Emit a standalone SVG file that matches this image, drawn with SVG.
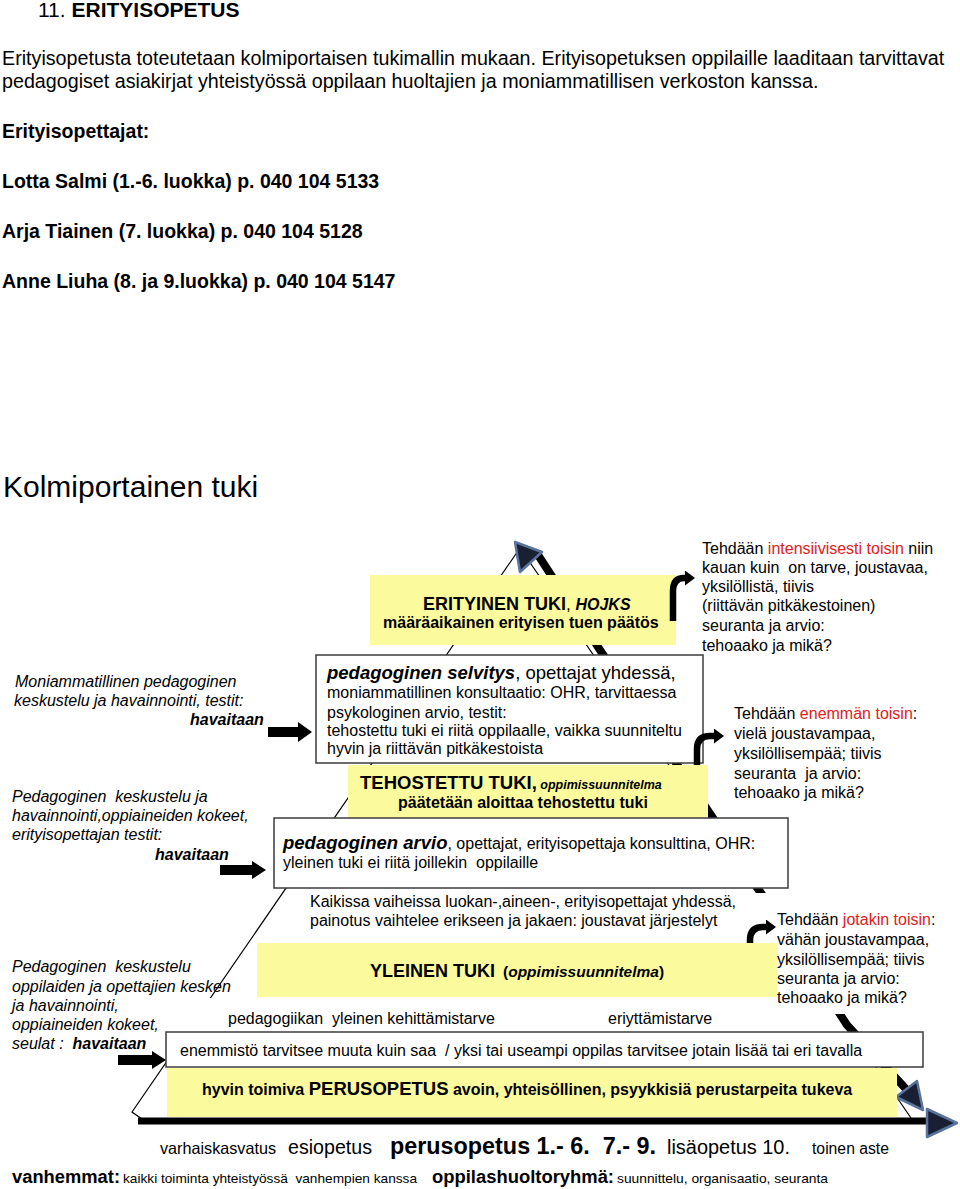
<svg xmlns="http://www.w3.org/2000/svg" width="960" height="1189" viewBox="0 0 960 1189">
<style>
text{font-family:"Liberation Sans",Arial,Helvetica,sans-serif;fill:#000}
.f16{font-size:16px}
.b{font-weight:bold}
.i{font-style:italic}
.red{fill:#e0201b}
.box{fill:#fff;stroke:#3c3c3c;stroke-width:1.5}
.yel{fill:#fbfb9e}
.bg{fill:#fff}
.thin{fill:none;stroke:#000;stroke-width:1.2}
.thick{fill:none;stroke:#000;stroke-width:8;stroke-linejoin:round}
.base{fill:none;stroke:#000;stroke-width:7}
.head{fill:#1a2033;stroke:#58739c;stroke-width:2.5;stroke-linejoin:round}
.blk{fill:#000}
.bend{fill:none;stroke:#000;stroke-width:6.5;marker-end:url(#bh)}
</style>
<defs>
<marker id="bh" markerUnits="userSpaceOnUse" markerWidth="12" markerHeight="16" refX="0" refY="7.5" orient="auto"><path d="M0,0 L10,7.5 L0,15 z" fill="#000"/></marker>
</defs>
<rect width="960" height="1189" fill="#fff"/>
<g id="header">
<text x="38" y="17" font-size="21">11. <tspan class="b">ERITYISOPETUS</tspan></text>
<text x="2" y="65" font-size="19.7">Erityisopetusta toteutetaan kolmiportaisen tukimallin mukaan. Erityisopetuksen oppilaille laaditaan tarvittavat</text>
<text x="2" y="88" font-size="19.7">pedagogiset asiakirjat yhteistyössä oppilaan huoltajien ja moniammatillisen verkoston kanssa.</text>
<text x="2" y="138" font-size="19.5" class="b">Erityisopettajat:</text>
<text x="2" y="188" font-size="19.5" class="b">Lotta Salmi (1.-6. luokka) p. 040 104 5133</text>
<text x="2" y="238" font-size="19.5" class="b">Arja Tiainen (7. luokka) p. 040 104 5128</text>
<text x="2" y="288" font-size="19.5" class="b">Anne Liuha (8. ja 9.luokka) p. 040 104 5147</text>
</g>
<g id="kolmiportainen-title">
<text x="3" y="497" font-size="30">Kolmiportainen tuki</text>
</g>
<g id="pyramid">
<polyline class="thin" points="911,1118 520,548 132,1112 142,1119"/>
<polyline class="thick" points="538,555 600,650 711,815 759,890 847,1025 906,1089"/>
<line class="base" x1="138" y1="1121" x2="929" y2="1121"/>
<polygon class="head" points="515,542 542,552 520,572"/>
<polygon class="head" points="896,1097 917,1081 923,1110"/>
<polygon class="head" points="927,1109 957,1123 927,1137"/>
</g>
<g id="note-erityinen">
<text x="702" y="554" class="f16">Tehdään <tspan class="red">intensiivisesti toisin</tspan> niin</text>
<text x="702" y="573" class="f16">kauan kuin&#160; on tarve, joustavaa,</text>
<text x="702" y="592" class="f16">yksilöllistä, tiivis</text>
<text x="702" y="611" class="f16">(riittävän pitkäkestoinen)</text>
<text x="702" y="631" class="f16">seuranta ja arvio:</text>
<text x="702" y="651" class="f16">tehoaako ja mikä?</text>
</g>
<g id="note-tehostettu">
<text x="734" y="719" class="f16">Tehdään <tspan class="red">enemmän toisin</tspan>:</text>
<text x="734" y="739" class="f16">vielä joustavampaa,</text>
<text x="734" y="759" class="f16">yksilöllisempää; tiivis</text>
<text x="734" y="779" class="f16">seuranta&#160; ja arvio:</text>
<text x="734" y="798" class="f16">tehoaako ja mikä?</text>
</g>
<g id="note-yleinen">
<rect class="bg" x="752" y="893" width="208" height="121"/>
<text x="777" y="925" class="f16">Tehdään <tspan class="red">jotakin toisin</tspan>:</text>
<text x="777" y="945" class="f16">vähän joustavampaa,</text>
<text x="777" y="965" class="f16">yksilöllisempää; tiivis</text>
<text x="777" y="984" class="f16">seuranta ja arvio:</text>
<text x="777" y="1003" class="f16">tehoaako ja mikä?</text>
</g>
<g id="obs-erityinen">
<text x="15" y="687" class="f16 i">Moniammatillinen pedagoginen</text>
<text x="14" y="706" class="f16 i">keskustelu ja havainnointi, testit:</text>
<text x="190" y="725" class="f16 i b">havaitaan</text>
</g>
<g id="obs-tehostettu">
<text x="12" y="802" class="f16 i">Pedagoginen&#160; keskustelu ja</text>
<text x="12" y="821" class="f16 i">havainnointi,oppiaineiden kokeet,</text>
<text x="12" y="840" class="f16 i">erityisopettajan testit:</text>
<text x="155" y="860" class="f16 i b">havaitaan</text>
</g>
<g id="obs-yleinen">
<rect class="bg" x="0" y="998" width="235" height="34"/>
<text x="12" y="972" class="f16 i">Pedagoginen&#160; keskustelu</text>
<text x="12" y="992" class="f16 i">oppilaiden ja opettajien kesken</text>
<text x="12" y="1011" class="f16 i">ja havainnointi,</text>
<text x="12" y="1030" class="f16 i">oppiaineiden kokeet,</text>
<text x="12" y="1049" class="f16 i">seulat :&#160; <tspan class="b">havaitaan</tspan></text>
</g>
<g id="erityinen-tuki">
<rect class="yel" x="370" y="575" width="306" height="70"/>
<text y="610"><tspan x="423" class="b" font-size="18">ERITYINEN TUKI</tspan><tspan font-size="17">, </tspan><tspan class="b i" font-size="16">HOJKS</tspan></text>
<text x="383" y="628" class="b f16">määräaikainen erityisen tuen päätös</text>
</g>
<g id="pedagoginen-selvitys">
<rect class="box" x="316" y="655" width="387" height="108"/>
<text x="327" y="679"><tspan class="b i" font-size="18.5">pedagoginen selvitys</tspan><tspan font-size="18.5">, opettajat yhdessä,</tspan></text>
<text x="327" y="698" class="f16">moniammatillinen konsultaatio: OHR, tarvittaessa</text>
<text x="327" y="718" class="f16">psykologinen arvio, testit:</text>
<text x="327" y="736" class="f16">tehostettu tuki ei riitä oppilaalle, vaikka suunniteltu</text>
<text x="327" y="754" class="f16">hyvin ja riittävän pitkäkestoista</text>
</g>
<g id="tehostettu-tuki">
<rect class="yel" x="348" y="765" width="360" height="53"/>
<text y="789"><tspan x="360" class="b" font-size="18.5">TEHOSTETTU TUKI,</tspan><tspan class="b i" font-size="12.5"> oppimissuunnitelma</tspan></text>
<text x="398" y="808" class="b f16">päätetään aloittaa tehostettu tuki</text>
</g>
<g id="pedagoginen-arvio">
<rect class="box" x="274" y="818" width="514" height="70"/>
<text x="283" y="849"><tspan class="b i" font-size="18.5">pedagoginen arvio</tspan><tspan class="f16">, opettajat, erityisopettaja konsulttina, OHR:</tspan></text>
<text x="283" y="868" class="f16">yleinen tuki ei riitä joillekin&#160; oppilaille</text>
</g>
<g id="kaikissa-vaiheissa">
<text x="310" y="907" class="f16">Kaikissa vaiheissa luokan-,aineen-, erityisopettajat yhdessä,</text>
<text x="310" y="926" class="f16">painotus vaihtelee erikseen ja jakaen: joustavat järjestelyt</text>
</g>
<g id="yleinen-tuki">
<rect class="yel" x="257" y="943" width="520" height="54"/>
<text y="977"><tspan x="370" class="b" font-size="18">YLEINEN TUKI</tspan><tspan x="503" class="b" font-size="15.5">(</tspan><tspan class="b i" font-size="15.5">oppimissuunnitelma</tspan><tspan class="b" font-size="15.5">)</tspan></text>
</g>
<g id="tarve">
<text x="228" y="1024" class="f16">pedagogiikan&#160; yleinen kehittämistarve</text>
<text x="608" y="1024" class="f16">eriyttämistarve</text>
</g>
<g id="enemmisto">
<rect class="box" x="166" y="1032" width="757" height="35"/>
<text x="180" y="1056" class="f16">enemmistö tarvitsee muuta kuin saa&#160; / yksi tai useampi oppilas tarvitsee jotain lisää tai eri tavalla</text>
</g>
<g id="perusopetus">
<rect class="yel" x="167" y="1068" width="730" height="49"/>
<text x="202" y="1095" class="b"><tspan font-size="16">hyvin toimiva </tspan><tspan font-size="18.5">PERUSOPETUS</tspan><tspan font-size="16"> avoin, yhteisöllinen, psyykkisiä perustarpeita tukeva</tspan></text>
</g>
<g id="connectors">
<polygon class="blk" points="268,727 298,727 298,722 312,732 298,742 298,737 268,737"/>
<polygon class="blk" points="220,865 252,865 252,861 266,870 252,879 252,875 220,875"/>
<polygon class="blk" points="118,1055 152,1055 152,1051 166,1060 152,1069 152,1065 118,1065"/>
<path class="bend" d="M673,621 V591 Q673,578 684,578 H685"/>
<path class="bend" d="M697,765 V749 Q697,736 710,736 H714"/>
<path class="bend" d="M750,943 V940 Q750,927 763,927 H766"/>
</g>
<g id="timeline">
<text x="160" y="1154" font-size="16.5" textLength="116" lengthAdjust="spacingAndGlyphs">varhaiskasvatus</text>
<text x="288" y="1154" font-size="20.5" textLength="84" lengthAdjust="spacingAndGlyphs">esiopetus</text>
<text x="390" y="1154" font-size="23.3" class="b" textLength="266" lengthAdjust="spacingAndGlyphs">perusopetus 1.- 6.&#160; 7.- 9.</text>
<text x="667" y="1154" font-size="20" textLength="123" lengthAdjust="spacingAndGlyphs">lisäopetus 10.</text>
<text x="812" y="1154" font-size="16" textLength="77" lengthAdjust="spacingAndGlyphs">toinen aste</text>
</g>
<g id="footer">
<text x="12" y="1183" font-size="18.3" class="b" textLength="108" lengthAdjust="spacingAndGlyphs">vanhemmat:</text>
<text x="123" y="1183" font-size="13.6" textLength="294" lengthAdjust="spacingAndGlyphs">kaikki toiminta yhteistyössä&#160; vanhempien kanssa</text>
<text x="432" y="1183" font-size="18.3" class="b" textLength="182" lengthAdjust="spacingAndGlyphs">oppilashuoltoryhmä:</text>
<text x="617" y="1183" font-size="13.6" textLength="211" lengthAdjust="spacingAndGlyphs">suunnittelu, organisaatio, seuranta</text>
</g>
</svg>
